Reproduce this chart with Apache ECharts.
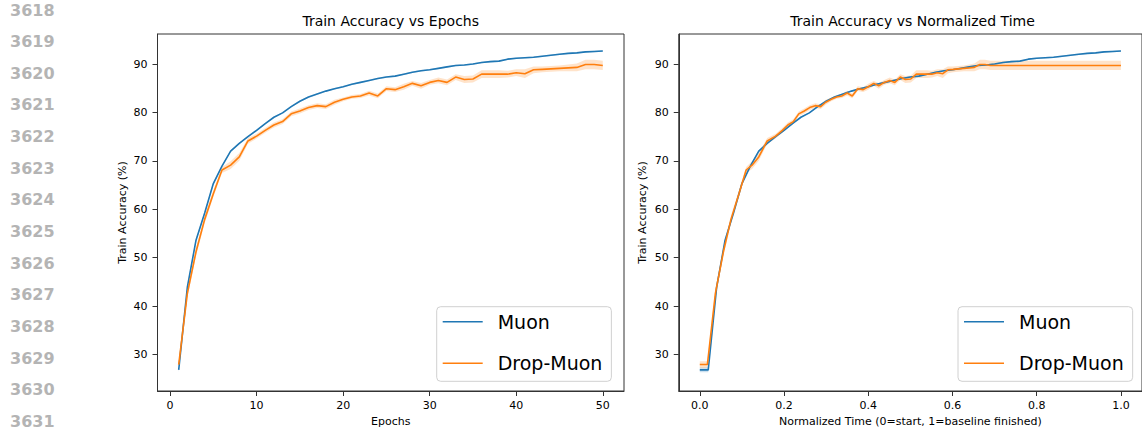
<!DOCTYPE html>
<html lang="en">
<head>
    <meta charset="UTF-8">
    <title>Train Accuracy</title>
    <script src="https://cdn.jsdelivr.net/npm/echarts@6/dist/echarts.min.js"></script>
    <style>
        html, body { margin: 0; padding: 0; background: #fff; }
    </style>
</head>
<body>
<div style="width: 1142px; height: 433px" id="acc-chart"></div>

<script type="text/javascript">
    // values
    var epochs = [];
    for (var e = 1; e <= 50; e++) { epochs.push(e); }

    var muonAcc = [26.8, 43.9, 53.6, 59.2, 65.3, 68.9, 72.0, 73.6, 75.0, 76.3,
                   77.7, 79.0, 79.9, 81.2, 82.3, 83.2, 83.8, 84.4, 84.9, 85.3,
                   85.8, 86.2, 86.6, 87.0, 87.3, 87.5, 87.9, 88.3, 88.6, 88.8,
                   89.1, 89.4, 89.7, 89.8, 90.0, 90.3, 90.5, 90.6, 91.0, 91.2,
                   91.3, 91.4, 91.6, 91.8, 92.0, 92.2, 92.3, 92.5, 92.6, 92.7];
    var muonStd = [0.5, 0.5, 0.4, 0.3, 0.3, 0.25, 0.2, 0.2, 0.2, 0.2,
                   0.15, 0.15, 0.15, 0.15, 0.15, 0.15, 0.15, 0.15, 0.15, 0.15,
                   0.15, 0.15, 0.15, 0.15, 0.15, 0.15, 0.15, 0.15, 0.15, 0.15,
                   0.15, 0.15, 0.15, 0.15, 0.15, 0.15, 0.15, 0.15, 0.15, 0.15,
                   0.15, 0.15, 0.15, 0.15, 0.15, 0.15, 0.15, 0.15, 0.15, 0.15];

    var dropAcc = [27.9, 42.6, 51.2, 57.9, 63.2, 68.1, 69.1, 70.8, 74.1, 75.1,
                   76.3, 77.4, 78.1, 79.7, 80.3, 81.0, 81.4, 81.2, 82.1, 82.7,
                   83.2, 83.4, 84.0, 83.4, 84.9, 84.7, 85.3, 86.0, 85.5, 86.2,
                   86.6, 86.2, 87.3, 86.8, 86.9, 87.9, 87.9, 87.9, 87.9, 88.2,
                   88.0, 88.8, 88.9, 89.0, 89.1, 89.2, 89.3, 89.9, 89.9, 89.7];
    var dropStd = [0.7, 0.9, 0.9, 0.8, 0.7, 0.6, 0.8, 0.8, 0.6, 0.5,
                   0.5, 0.5, 0.5, 0.5, 0.5, 0.5, 0.5, 0.5, 0.5, 0.4,
                   0.4, 0.4, 0.5, 0.5, 0.5, 0.5, 0.6, 0.5, 0.6, 0.5,
                   0.6, 0.6, 0.6, 0.7, 0.7, 0.8, 0.8, 0.8, 0.7, 0.7,
                   0.9, 0.7, 0.6, 0.6, 0.6, 0.7, 0.8, 1.0, 1.0, 0.95];
    // normalized wall-clock time at the end of each Drop-Muon epoch
    var dropTime = [0.018, 0.037, 0.056, 0.074, 0.093, 0.110, 0.124, 0.140, 0.160, 0.180,
                    0.196, 0.209, 0.222, 0.235, 0.248, 0.261, 0.274, 0.287, 0.299, 0.312,
                    0.325, 0.337, 0.350, 0.362, 0.375, 0.388, 0.400, 0.413, 0.425, 0.438,
                    0.451, 0.463, 0.476, 0.488, 0.501, 0.514, 0.526, 0.539, 0.551, 0.564,
                    0.577, 0.589, 0.602, 0.614, 0.627, 0.640, 0.652, 0.665, 0.677, 0.690];

    var epochTicks = [0, 10, 20, 30, 40, 50];
    var timeTicks = [0, 0.2, 0.4, 0.6, 0.8, 1.0];
    var accTicks = [30, 40, 50, 60, 70, 80, 90];
    var lineNumbers = ['3618', '3619', '3620', '3621', '3622', '3623', '3624',
                       '3625', '3626', '3627', '3628', '3629', '3630', '3631'];

    var BLUE = '#1f77b4';
    var ORANGE = '#ff7f0e';
    var FONT = '"DejaVu Sans", sans-serif';
    // thin horizontal bar inside a 40x20 box, used as the legend handle
    var LINE_ICON = 'path://M0,0L0,0M0,9.2L40,9.2L40,10.8L0,10.8ZM40,20L40,20';

    // baseline runs the full budget: epoch e ends at e/50
    var muonTime = epochs.map(function (e) { return e / epochs.length; });

    // time curves start at t=0 with the first recorded accuracy;
    // Drop-Muon holds its final value until the baseline finishes
    function withStart(xs, ys) {
        return [0].concat(xs).map(function (x, i) {
            return [x, ys[Math.max(0, i - 1)]];
        });
    }
    var muonT = withStart(muonTime, muonAcc);
    var muonTStd = [muonStd[0]].concat(muonStd);
    var dropT = withStart(dropTime, dropAcc);
    var dropTStd = [dropStd[0]].concat(dropStd);
    dropT.push([1.0, dropAcc[dropAcc.length - 1]]);
    dropTStd.push(dropStd[dropStd.length - 1]);

    function pairs(xs, ys) {
        return xs.map(function (x, i) { return [x, ys[i]]; });
    }

    // shaded mean +/- std region as one polygon
    function band(name, pts, std, color, axis) {
        var data = pts.map(function (p, i) {
            return [p[0], p[1] - std[i], p[1] + std[i]];
        });
        return {
            name: name,
            type: 'custom',
            xAxisIndex: axis,
            yAxisIndex: axis,
            silent: true,
            encode: { x: 0, y: [1, 2] },
            data: data,
            renderItem: function (params, api) {
                if (params.dataIndex !== 0) return null;
                var points = [];
                for (var i = 0; i < data.length; i++) {
                    points.push(api.coord([data[i][0], data[i][2]]));
                }
                for (var j = data.length - 1; j >= 0; j--) {
                    points.push(api.coord([data[j][0], data[j][1]]));
                }
                return {
                    type: 'polygon',
                    shape: { points: points },
                    style: { fill: color, opacity: 0.22 }
                };
            }
        };
    }

    function line(name, pts, color, axis) {
        return {
            name: name,
            type: 'line',
            xAxisIndex: axis,
            yAxisIndex: axis,
            data: pts,
            symbol: 'none',
            lineStyle: { color: color, width: 1.6 },
            itemStyle: { color: color }
        };
    }

    function yAxis(idx) {
        return {
            type: 'value',
            gridIndex: idx,
            min: 22.44,
            max: 96.2,
            name: 'Train Accuracy (%)',
            nameLocation: 'middle',
            nameGap: idx === 0 ? 30 : 31,
            nameTextStyle: { fontFamily: FONT, fontSize: 11, color: '#000' },
            axisLine: { show: true, onZero: false, lineStyle: { color: '#333', width: 1 } },
            axisTick: { show: true, length: 5, customValues: accTicks, lineStyle: { color: '#333' } },
            axisLabel: { customValues: accTicks, margin: 10, fontFamily: FONT, fontSize: 11, color: '#000' },
            splitLine: { show: false }
        };
    }

    function xAxis(idx, min, max, ticks, name, fmt) {
        return {
            type: 'value',
            gridIndex: idx,
            min: min,
            max: max,
            name: name,
            nameLocation: 'middle',
            nameGap: 25,
            nameTextStyle: { fontFamily: FONT, fontSize: 11, color: '#000', verticalAlign: 'top' },
            axisLine: { show: true, onZero: false, lineStyle: { color: '#333', width: 1 } },
            axisTick: { show: true, length: 5, customValues: ticks, lineStyle: { color: '#333' } },
            axisLabel: { customValues: ticks, margin: 9, fontFamily: FONT, fontSize: 11, color: '#000', formatter: fmt },
            splitLine: { show: false }
        };
    }

    function legend(left) {
        return {
            left: left,
            top: 306.7,
            orient: 'vertical',
            data: [
                { name: 'Muon', icon: LINE_ICON },
                { name: 'Drop-Muon', icon: LINE_ICON }
            ],
            itemWidth: 40,
            itemHeight: 20,
            itemGap: 21.6,
            padding: [5, 9, 8, 6],
            backgroundColor: 'rgba(255,255,255,0.8)',
            borderColor: '#d0d0d0',
            borderWidth: 1,
            borderRadius: 4,
            selectedMode: false,
            textStyle: { fontFamily: FONT, fontSize: 19, color: '#000', padding: [0, 0, 0, 10] }
        };
    }

    var graphics = lineNumbers.map(function (t, i) {
        return {
            type: 'text',
            x: 10,
            y: 10 + i * 31.65,
            style: {
                text: t,
                font: 'bold 16px "DejaVu Sans", sans-serif',
                fill: '#b4b4b4',
                textVerticalAlign: 'middle'
            }
        };
    });

    var myChart = echarts.init(document.getElementById('acc-chart'), null, { renderer: 'svg' });
    var option = {
        animation: false,
        backgroundColor: '#fff',
        title: [
            {
                text: 'Train Accuracy vs Epochs',
                left: 390.7,
                top: 14,
                textAlign: 'center',
                padding: 0,
                textStyle: { fontFamily: FONT, fontSize: 14, fontWeight: 'normal', color: '#000' }
            },
            {
                text: 'Train Accuracy vs Normalized Time',
                left: 912.5,
                top: 14,
                textAlign: 'center',
                padding: 0,
                textStyle: { fontFamily: FONT, fontSize: 14, fontWeight: 'normal', color: '#000' }
            }
        ],
        legend: [legend(436.7), legend(958)],
        grid: [
            { left: 157.5, top: 34, width: 466.5, height: 357, show: true, borderColor: '#333', borderWidth: 1, backgroundColor: 'transparent' },
            { left: 678.75, top: 34, width: 467.5, height: 357, show: true, borderColor: '#333', borderWidth: 1, backgroundColor: 'transparent' }
        ],
        xAxis: [
            xAxis(0, -1.45, 52.45, epochTicks, 'Epochs', function (v) { return String(v); }),
            xAxis(1, -0.05, 1.05, timeTicks, 'Normalized Time (0=start, 1=baseline finished)', function (v) { return v.toFixed(1); })
        ],
        yAxis: [yAxis(0), yAxis(1)],
        graphic: graphics,
        series: [
            band('Muon band', pairs(epochs, muonAcc), muonStd, BLUE, 0),
            line('Muon', pairs(epochs, muonAcc), BLUE, 0),
            band('Drop-Muon band', pairs(epochs, dropAcc), dropStd, ORANGE, 0),
            line('Drop-Muon', pairs(epochs, dropAcc), ORANGE, 0),
            band('Muon band', muonT, muonTStd, BLUE, 1),
            line('Muon', muonT, BLUE, 1),
            band('Drop-Muon band', dropT, dropTStd, ORANGE, 1),
            line('Drop-Muon', dropT, ORANGE, 1)
        ]
    };

    myChart.setOption(option);
</script>
</body>
</html>
